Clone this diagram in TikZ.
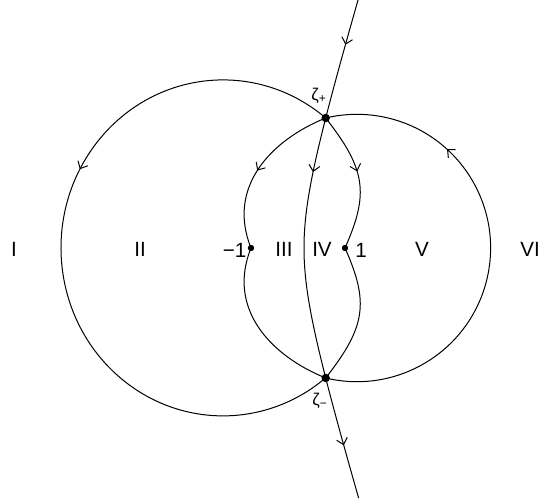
\documentclass[tikz,border=0pt]{standalone}
\usepackage{fontspec}
\setmainfont{Liberation Sans}
\usetikzlibrary{arrows.meta, decorations.markings, positioning}
\tikzset{
    contour/.style={line width=0.5pt},
    flow/.style={contour, postaction={decorate}, decoration={markings, mark=at position #1 with {\arrow{Straight Barb[length=3pt,width=5.5pt]}}}},
    bigdot/.style={circle, fill, inner sep=0pt, minimum size=4.2pt},
    smalldot/.style={circle, fill, inner sep=0pt, minimum size=3.2pt},
    region/.style={font=\fontsize{10.3}{12}\selectfont, inner sep=0pt},
    zlabel/.style={font=\fontsize{8.5}{10}\selectfont, inner sep=0pt}
}

\begin{document}
\begin{tikzpicture}[x=0.5pt, y=0.5pt]
    \useasboundingbox (0,-255) rectangle (543,248);

    \coordinate (ltop) at (358,248);
    \coordinate (lbot) at (358.6,-250);
    \node[bigdot] (zp) at (325.7,130) {};
    \node[bigdot] (zm) at (325.7,-130) {};
    \node[smalldot] (mone) at (251,0) {};
    \node[smalldot] (one) at (345,0) {};

    \draw[flow=0.39] (zp.center) arc[start angle=50.65, end angle=309.35, x radius=162, y radius=168];
    \draw[flow=0.73] (zm.center) arc[start angle=-103.5, end angle=103.5, radius=133.7];

    \draw[flow=0.26] (zp.center) .. controls (270.1,107.5) and (226.7,60.3) .. (mone.center)
        .. controls (226.7,-60.3) and (270.1,-107.5) .. (zm.center);
    \draw[flow=0.22] (zp.center) .. controls (365.7,78.8) and (369.4,54.8) .. (one.center)
        .. controls (369.4,-54.8) and (365.7,-78.8) .. (zm.center);

    \draw[flow=0.38] plot[domain=248:130, samples=30, variable=\t] ({279.9+24.1*sqrt(1+(\t/80.4)^2)}, \t);
    \draw[flow=0.21] plot[domain=130:-130, samples=60, variable=\t] ({279.9+24.1*sqrt(1+(\t/80.4)^2)}, \t);
    \draw[flow=0.56] plot[domain=-130:-250, samples=30, variable=\t] ({279.9+24.1*sqrt(1+(\t/80.4)^2)}, \t);

    \node[zlabel] (zplab) at (319,152) {ζ\textsubscript{+}};
    \node[zlabel] (zmlab) at (320,-153) {ζ\textsubscript{−}};

    \node[region] (rI) at (14,-1) {I};
    \node[region] (rII) at (140,-1) {II};
    \node[region, left=0.3pt of mone, yshift=-1] (lmone) {−1};
    \node[region] (rIII) at (284,-1) {III};
    \node[region] (rIV) at (322,-1) {IV};
    \node[region, right=3.2pt of one, yshift=-1] (lone) {1};
    \node[region] (rV) at (422,-1) {V};
    \node[region] (rVI) at (530,-1) {VI};
\end{tikzpicture}
\end{document}
